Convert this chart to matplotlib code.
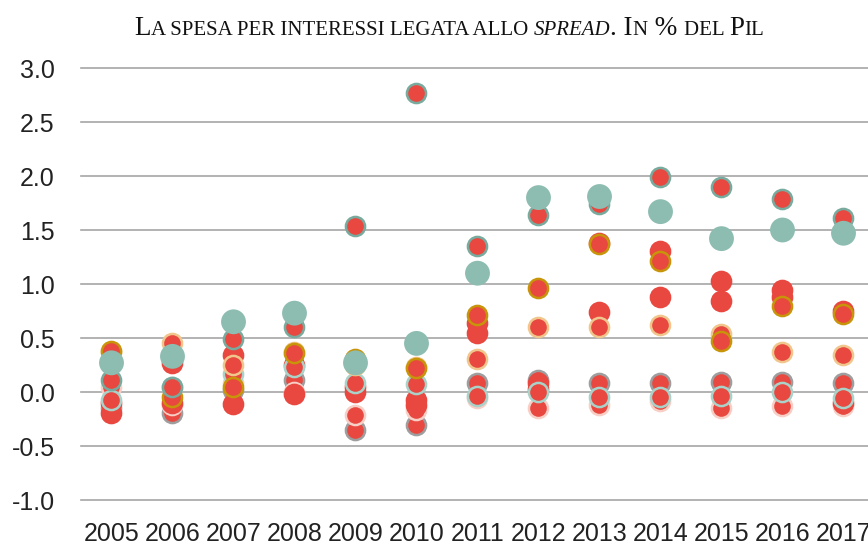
import matplotlib
matplotlib.use("Agg")
import matplotlib.pyplot as plt
from matplotlib import font_manager

years = [2005, 2006, 2007, 2008, 2009, 2010, 2011, 2012, 2013, 2014, 2015, 2016, 2017]
year_labels = [str(y) for y in years]
y_ticks = [-1.0, -0.5, 0.0, 0.5, 1.0, 1.5, 2.0, 2.5, 3.0]

# series (one value per year)
teal_big   = [0.27, 0.33, 0.65, 0.73, 0.27, 0.45, 1.10, 1.80, 1.81, 1.67, 1.42, 1.50, 1.47]
ring_teal  = [0.11, 0.05, 0.49, 0.60, 1.54, 2.77, 1.35, 1.64, 1.74, 1.99, 1.90, 1.79, 1.61]
ring_gold  = [0.38, -0.05, 0.05, 0.36, 0.31, 0.22, 0.71, 0.96, 1.37, 1.21, 0.47, 0.80, 0.72]
ring_peach = [0.37, 0.45, 0.25, 0.37, 0.25, 0.23, 0.31, 0.60, 0.60, 0.62, 0.54, 0.37, 0.34]
ring_light = [-0.07, 0.05, 0.17, 0.23, 0.08, 0.07, -0.04, 0.00, -0.05, -0.05, -0.04, 0.00, -0.06]
ring_grey  = [-0.15, -0.19, 0.02, 0.11, -0.35, -0.31, 0.08, 0.11, 0.08, 0.08, 0.09, 0.09, 0.08]
ring_pink  = [0.05, -0.12, 0.08, 0.00, -0.21, -0.17, -0.06, -0.15, -0.12, -0.08, -0.15, -0.13, -0.13]
red_a      = [-0.19, -0.10, -0.11, -0.02, 0.05, -0.07, 0.55, 0.03, 0.74, 0.88, 0.84, 0.94, 0.75]
red_b      = [-0.10, 0.27, 0.34, 0.25, 0.00, -0.12, 0.64, 0.08, 1.38, 1.31, 1.03, 0.88, -0.10]

RED = "#E8483F"
TEAL = "#8DBCB0"

avail = {f.name for f in font_manager.fontManager.ttflist}
tick_font = "Liberation Sans Narrow" if "Liberation Sans Narrow" in avail else "Liberation Sans"

fig = plt.figure(figsize=(8.68, 5.47), dpi=100)
W, H = 868, 547
left, right, top, bottom = 81, 874, 68, 500
ax = fig.add_axes([left / W, 1 - bottom / H, (right - left) / W, (bottom - top) / H])

ax.set_xlim(2004.5, 2017.5)
ax.set_ylim(-1.0, 3.0)

s_red = 190
lw_ring = 1.8
ring_series = [
    (ring_grey, "#9E9E9E"),
    (ring_pink, "#F7CFC6"),
    (red_a, RED),
    (red_b, RED),
    (ring_light, "#A9D2C9"),
    (ring_peach, "#F0C68C"),
    (ring_gold, "#C8940A"),
    (ring_teal, "#79AA9E"),
]
for vals, ec in ring_series:
    ax.scatter(years, vals, s=s_red, c=RED, edgecolors=ec, linewidths=lw_ring, zorder=3)
ax.scatter(years, teal_big, s=320, c=TEAL, edgecolors="none", zorder=4)

ax.set_yticks(y_ticks)
ax.set_yticklabels([f"{v:.1f}" for v in y_ticks])
ax.set_xticks(years)
ax.set_xticklabels(year_labels)
ax.grid(axis="y", color="#A6A6A6", linewidth=1.2)
ax.set_axisbelow(True)
for gl in ax.get_ygridlines():
    gl.set_clip_on(False)
for sp in ax.spines.values():
    sp.set_visible(False)
ax.tick_params(axis="both", length=0, labelsize=18, colors="#222222")
ax.tick_params(axis="x", pad=16)
ax.tick_params(axis="y", pad=19)
for lab in ax.get_xticklabels() + ax.get_yticklabels():
    lab.set_fontfamily(tick_font)

# small-caps title
BIG, SMALL = 19.5, 15
parts = [("L", BIG, "normal"), ("A SPESA PER INTERESSI LEGATA ALLO ", SMALL, "normal"),
         ("SPREAD", SMALL, "italic"), (". I", BIG, "normal"), ("N", SMALL, "normal"),
         (" % ", BIG, "normal"), ("DEL ", SMALL, "normal"), ("P", BIG, "normal"), ("IL", SMALL, "normal")]
renderer = fig.canvas.get_renderer()
texts = []
x = 0
for s, size, style in parts:
    t = fig.text(x, 1 - 35 / H, s, fontsize=size, fontstyle=style, family="Liberation Serif",
                 ha="left", va="baseline", color="#111111")
    bb = t.get_window_extent(renderer)
    texts.append((t, bb.width))
    x += bb.width / W
total = x
start = 449 / W - total / 2
cur = start
for t, w in texts:
    t.set_x(cur)
    cur += w / W

fig.savefig("out.png", dpi=100)
